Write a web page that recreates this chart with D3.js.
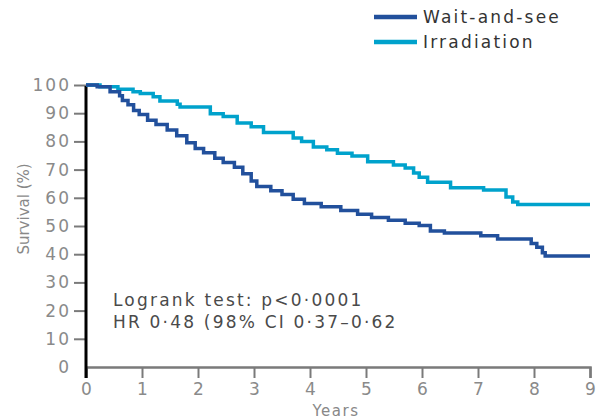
<!DOCTYPE html>
<html>
<head>
<meta charset="utf-8">
<script src="https://cdn.jsdelivr.net/npm/d3@7"></script>
<style>
  html, body { margin: 0; padding: 0; background: #fff; }
  svg { display: block; }
  text { font-family: "DejaVu Sans", "Liberation Sans", Arial, sans-serif; }
</style>
</head>
<body>
<svg id="chart" width="598" height="419"></svg>
<script>
// ---- data ----
const seriesNames = ["Wait-and-see", "Irradiation"];
const xTicks = [0, 1, 2, 3, 4, 5, 6, 7, 8, 9];
const yTicks = [0, 10, 20, 30, 40, 50, 60, 70, 80, 90, 100];

const waitYears = [0, 0.2, 0.43, 0.6, 0.65, 0.75, 0.85, 0.95, 1.1, 1.25, 1.45, 1.62, 1.8, 1.95, 2.1, 2.3, 2.45, 2.65, 2.8, 2.95, 3.05, 3.3, 3.5, 3.7, 3.9, 4.2, 4.55, 4.85, 5.1, 5.4, 5.7, 5.95, 6.15, 6.4, 7.05, 7.35, 7.95, 8.05, 8.15, 8.2, 9];
const waitSurv  = [100, 99.4, 97.6, 96.2, 94.5, 93.0, 91.0, 89.5, 87.5, 86.0, 84.0, 82.0, 79.5, 77.5, 76.0, 74.0, 72.5, 70.8, 68.5, 66.0, 64.0, 62.5, 61.2, 59.5, 58.0, 56.8, 55.5, 54.2, 53.0, 52.0, 51.0, 50.2, 48.2, 47.5, 46.5, 45.4, 43.8, 42.5, 40.5, 39.4, 39.4];

const irrYears = [0, 0.25, 0.57, 0.84, 0.97, 1.2, 1.32, 1.63, 1.68, 2.22, 2.45, 2.7, 2.95, 3.17, 3.7, 3.85, 4.06, 4.3, 4.49, 4.75, 5.03, 5.49, 5.7, 5.85, 5.95, 6.1, 6.51, 7.1, 7.5, 7.62, 7.71, 9];
const irrSurv  = [100, 99.4, 98.5, 97.6, 97.0, 95.8, 94.3, 93.2, 92.2, 89.8, 88.8, 86.5, 85.2, 83.2, 81.2, 80.0, 78.0, 77.0, 75.8, 74.8, 72.8, 71.6, 70.6, 68.8, 67.3, 65.5, 63.6, 62.8, 60.3, 58.5, 57.6, 57.6];

const annotation = ["Logrank test: p<0·0001", "HR 0·48 (98% CI 0·37–0·62"];
const xLabel = "Years";
const yLabel = "Survival (%)";

// ---- drawing ----
const colors = ["#22509c", "#00a2cc"];
const svg = d3.select("#chart");

const x = d3.scaleLinear().domain([0, 9]).range([86, 590]);
const y = d3.scaleLinear().domain([0, 100]).range([367, 85]);

// x axis
const gx = svg.append("g").attr("transform", `translate(0,${y(0)})`)
  .call(d3.axisBottom(x).tickValues(xTicks).tickSize(11).tickPadding(5).tickFormat(d3.format("d")));
gx.select(".domain").attr("stroke", "#7a7a7a").attr("stroke-width", 2.5);
gx.selectAll(".tick line").attr("stroke", "#7a7a7a").attr("stroke-width", 2);
gx.selectAll(".tick text").attr("fill", "#8a8a8a").attr("font-size", 17)
  .attr("font-family", "'DejaVu Sans', sans-serif");

// y axis
const gy = svg.append("g").attr("transform", `translate(${x(0)},0)`)
  .call(d3.axisLeft(y).tickValues(yTicks).tickSize(12).tickSizeOuter(0).tickPadding(3).tickFormat(d3.format("d")));
gy.select(".domain").remove();
gy.selectAll(".tick line").attr("stroke", "#7a7a7a").attr("stroke-width", 2);
gy.selectAll(".tick text").attr("fill", "#8a8a8a").attr("font-size", 17)
  .attr("letter-spacing", 2)
  .attr("font-family", "'DejaVu Sans', sans-serif");
gy.selectAll(".tick").filter(d => d === 0).select("line").remove();
// black vertical axis line extending below x axis
svg.append("line")
  .attr("x1", x(0)).attr("x2", x(0))
  .attr("y1", y(100) + 1).attr("y2", y(0) + 11)
  .attr("stroke", "#000").attr("stroke-width", 3);

// curves
const line = d3.line().curve(d3.curveStepAfter)
  .x(d => x(d[0])).y(d => y(d[1]));
const series = [
  d3.zip(waitYears, waitSurv),
  d3.zip(irrYears, irrSurv)
];
[1, 0].forEach(i => {
  svg.append("path").datum(series[i])
    .attr("d", line)
    .attr("fill", "none")
    .attr("stroke", colors[i])
    .attr("stroke-width", 3.5);
});

// legend
seriesNames.forEach((name, i) => {
  const ly = 17 + i * 25;
  svg.append("line").attr("x1", 374).attr("x2", 417).attr("y1", ly).attr("y2", ly)
    .attr("stroke", colors[i]).attr("stroke-width", 4.5);
  svg.append("text").attr("x", 423).attr("y", ly + 6)
    .attr("font-size", 17).attr("letter-spacing", 2.2).attr("fill", "#333").text(name);
});

// annotation
annotation.forEach((t, i) => {
  svg.append("text").attr("x", 113).attr("y", 306 + i * 22)
    .attr("font-size", 17).attr("letter-spacing", 2.2).attr("fill", "#4a4a4a").text(t);
});

// axis labels
svg.append("text")
  .attr("transform", `translate(29,209) rotate(-90)`)
  .attr("text-anchor", "middle")
  .attr("font-size", 15).attr("fill", "#888").text(yLabel);
svg.append("text")
  .attr("x", 336).attr("y", 416)
  .attr("text-anchor", "middle")
  .attr("font-size", 15).attr("letter-spacing", 1.5).attr("fill", "#888").text(xLabel);
</script>
</body>
</html>
